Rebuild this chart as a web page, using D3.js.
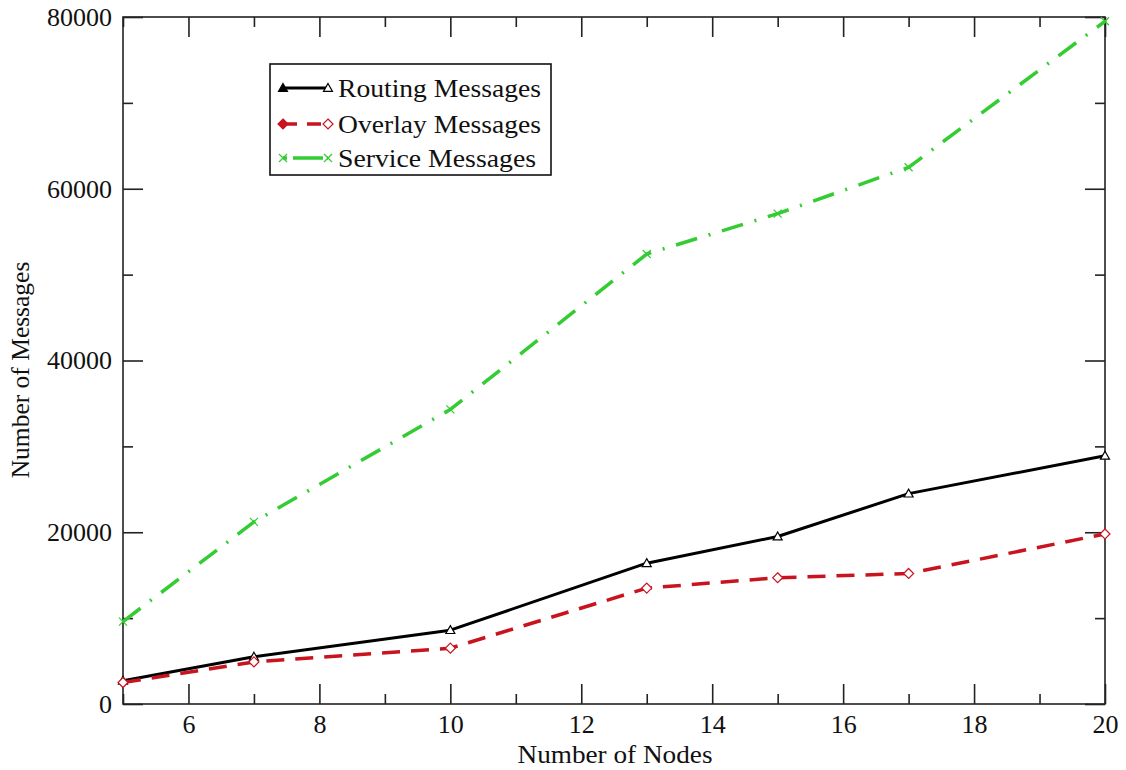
<!DOCTYPE html>
<html>
<head>
<meta charset="utf-8">
<script src="https://cdn.jsdelivr.net/npm/d3@7"></script>
<style>
  html, body { margin: 0; padding: 0; background: #fff; }
  svg { display: block; }
  text { font-family: "Liberation Serif", "Times New Roman", serif; fill: #111; }
</style>
</head>
<body>
<svg id="chart" width="1126" height="770"></svg>
<script>
// Message counts per network size
const nodes = [5, 7, 10, 13, 15, 17, 20];
const routingMessages = [2700, 5500, 8600, 16400, 19500, 24500, 28900];
const overlayMessages = [2500, 4900, 6500, 13500, 14700, 15200, 19800];
const serviceMessages = [9600, 21200, 34300, 52400, 57100, 62500, 79500];

const xMajorTicks = [6, 8, 10, 12, 14, 16, 18, 20];
const xMinorTicks = [5, 7, 9, 11, 13, 15, 17, 19];
const yMajorTicks = [0, 20000, 40000, 60000, 80000];
const yMinorTicks = [10000, 30000, 50000, 70000];

const seriesNames = ["Routing Messages", "Overlay Messages", "Service Messages"];
const seriesColors = ["#000000", "#c8141e", "#33cc33"];
const seriesDash = [null, "18,11", "22,12,2,12"];
const seriesSymbols = ["triangle", "diamond", "cross"];

const svg = d3.select("#chart");
const plotLeft = 123, plotRight = 1105, plotTop = 17, plotBottom = 704;

const x = d3.scaleLinear().domain([5, 20]).range([plotLeft, plotRight]);
const y = d3.scaleLinear().domain([0, 80000]).range([plotBottom, plotTop]);

const axisColor = "#222";
const fontSize = 26;

// Frame
svg.append("rect")
  .attr("x", plotLeft).attr("y", plotTop)
  .attr("width", plotRight - plotLeft).attr("height", plotBottom - plotTop)
  .attr("fill", "none").attr("stroke", axisColor).attr("stroke-width", 1.6);

function styleAxis(g) {
  g.select(".domain").remove();
  g.selectAll(".tick line").attr("stroke", axisColor).attr("stroke-width", 1.6);
  g.selectAll("text").style("font-size", fontSize + "px").attr("fill", "#111");
}

// Bottom axis with labels, ticks pointing inward
svg.append("g").attr("transform", `translate(0,${plotBottom})`)
  .call(d3.axisBottom(x).tickValues(xMajorTicks).tickSize(-20).tickPadding(11).tickFormat(d3.format("d")))
  .call(styleAxis);
svg.append("g").attr("transform", `translate(0,${plotBottom})`)
  .call(d3.axisBottom(x).tickValues(xMinorTicks).tickSize(-10).tickFormat(""))
  .call(styleAxis);
// Top mirror ticks
svg.append("g").attr("transform", `translate(0,${plotTop})`)
  .call(d3.axisTop(x).tickValues(xMajorTicks).tickSize(-20).tickFormat(""))
  .call(styleAxis);
svg.append("g").attr("transform", `translate(0,${plotTop})`)
  .call(d3.axisTop(x).tickValues(xMinorTicks).tickSize(-10).tickFormat(""))
  .call(styleAxis);

// Left axis with labels
svg.append("g").attr("transform", `translate(${plotLeft},0)`)
  .call(d3.axisLeft(y).tickValues(yMajorTicks).tickSize(-20).tickPadding(11).tickFormat(d3.format("d")))
  .call(styleAxis);
svg.append("g").attr("transform", `translate(${plotLeft},0)`)
  .call(d3.axisLeft(y).tickValues(yMinorTicks).tickSize(-10).tickFormat(""))
  .call(styleAxis);
// Right mirror ticks
svg.append("g").attr("transform", `translate(${plotRight},0)`)
  .call(d3.axisRight(y).tickValues(yMajorTicks).tickSize(-20).tickFormat(""))
  .call(styleAxis);
svg.append("g").attr("transform", `translate(${plotRight},0)`)
  .call(d3.axisRight(y).tickValues(yMinorTicks).tickSize(-10).tickFormat(""))
  .call(styleAxis);

// Axis titles
svg.append("text")
  .attr("x", 615).attr("y", 763)
  .attr("text-anchor", "middle")
  .attr("textLength", 195).attr("lengthAdjust", "spacingAndGlyphs")
  .style("font-size", "26px")
  .text("Number of Nodes");
svg.append("text")
  .attr("transform", `translate(29,370) rotate(-90)`)
  .attr("text-anchor", "middle")
  .style("font-size", "25.5px")
  .text("Number of Messages");

// Marker drawing helper
function drawSymbol(g, kind, cx, cy, color, filled) {
  if (kind === "triangle") {
    const s = 4.5;
    g.append("path")
      .attr("d", `M${cx},${cy - s}L${cx + s},${cy + s * 0.75}L${cx - s},${cy + s * 0.75}Z`)
      .attr("fill", filled ? color : "#fff").attr("stroke", color).attr("stroke-width", 1.2);
  } else if (kind === "diamond") {
    const s = 5;
    g.append("path")
      .attr("d", `M${cx},${cy - s}L${cx + s},${cy}L${cx},${cy + s}L${cx - s},${cy}Z`)
      .attr("fill", filled ? color : "#fff").attr("stroke", color).attr("stroke-width", 1.2);
  } else {
    const s = 4;
    g.append("path")
      .attr("d", `M${cx - s},${cy - s}L${cx + s},${cy + s}M${cx - s},${cy + s}L${cx + s},${cy - s}`)
      .attr("fill", "none").attr("stroke", color).attr("stroke-width", 1.2);
  }
}

const allSeries = [routingMessages, overlayMessages, serviceMessages];

const line = d3.line().x((d, i) => x(nodes[i])).y(d => y(d));

const plot = svg.append("g");
allSeries.forEach((vals, si) => {
  plot.append("path")
    .datum(vals)
    .attr("d", line)
    .attr("fill", "none")
    .attr("stroke", seriesColors[si])
    .attr("stroke-width", si === 0 ? 3 : 3.5)
    .attr("stroke-dasharray", seriesDash[si])
    .attr("stroke-linejoin", "round");
});
allSeries.forEach((vals, si) => {
  const g = plot.append("g");
  vals.forEach((v, i) => drawSymbol(g, seriesSymbols[si], x(nodes[i]), y(v), seriesColors[si], false));
});

// Legend
const legend = svg.append("g");
legend.append("rect")
  .attr("x", 270).attr("y", 64).attr("width", 281).attr("height", 111)
  .attr("fill", "#fff").attr("stroke", "#111").attr("stroke-width", 1.6);
const legendRows = [88, 124, 158];
const legendTextWidths = [203, 203, 198];
seriesNames.forEach((name, si) => {
  const ly = legendRows[si];
  legend.append("line")
    .attr("x1", 283).attr("x2", 328).attr("y1", ly).attr("y2", ly)
    .attr("stroke", seriesColors[si]).attr("stroke-width", si === 0 ? 3 : 3.5)
    .attr("stroke-dasharray", si === 0 ? null : (si === 1 ? "14,10" : "4,6,30"));
  drawSymbol(legend, seriesSymbols[si], 283, ly, seriesColors[si], true);
  drawSymbol(legend, seriesSymbols[si], 328, ly, seriesColors[si], false);
  legend.append("text")
    .attr("x", 338).attr("y", ly).attr("dy", "0.33em")
    .attr("textLength", legendTextWidths[si]).attr("lengthAdjust", "spacingAndGlyphs")
    .style("font-size", "26px")
    .text(name);
});
</script>
</body>
</html>
